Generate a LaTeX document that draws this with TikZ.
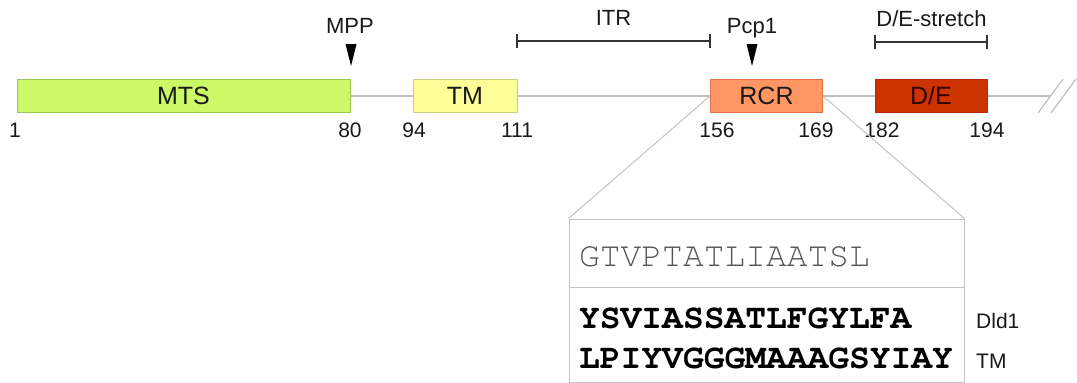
\documentclass[tikz,border=0pt]{standalone}
\usepackage{fontspec}
\setmainfont{Liberation Sans}
\newfontfamily\seqfont{texgyrecursor}[Extension=.otf, UprightFont=*-regular, BoldFont=*-bold]
\definecolor{txt}{RGB}{25,25,25}
\definecolor{axis}{RGB}{190,190,190}
\definecolor{mtsfill}{RGB}{204,250,102}
\definecolor{mtsdraw}{RGB}{160,195,90}
\definecolor{tmfill}{RGB}{255,255,153}
\definecolor{tmdraw}{RGB}{205,205,130}
\definecolor{rcrfill}{RGB}{255,150,100}
\definecolor{rcrdraw}{RGB}{225,115,70}
\definecolor{defill}{RGB}{204,51,0}
\definecolor{dedraw}{RGB}{175,45,10}
\definecolor{detext}{RGB}{50,5,0}
\definecolor{boxline}{RGB}{195,195,195}
\definecolor{seqgray}{RGB}{85,85,85}
\tikzset{
  dom/.style={rectangle, inner sep=0pt, line width=1pt, minimum height=33pt,
              font=\fontsize{25}{25}\selectfont, text=txt},
  num/.style={inner sep=0pt, anchor=base, font=\fontsize{21}{21}\selectfont, text=txt},
  lab/.style={inner sep=0pt, anchor=base, font=\fontsize{22}{22}\selectfont, text=txt},
  axisline/.style={draw=axis, line width=1.5pt},
  bar/.style={draw=black!80, line width=2pt},
  site/.style={fill=black},
  seq/.style={inner sep=0pt, anchor=base west, font=\seqfont\fontsize{34.6}{34.6}\selectfont},
  seqbold/.style={seq, text=black, font=\seqfont\bfseries\fontsize{34.6}{34.6}\selectfont},
}
\begin{document}
\begin{tikzpicture}[x=1pt,y=-1pt]
\useasboundingbox (0,0) rectangle (1077,383);
% domains
\node[dom, fill=mtsfill, draw=mtsdraw, minimum width=333pt] (mts) at (183.5,96) {MTS};
\node[dom, fill=tmfill, draw=tmdraw, minimum width=104pt] (tm) at (465,96) {TM};
\node[dom, fill=rcrfill, draw=rcrdraw, minimum width=112pt] (rcr) at (766.5,96) {RCR};
\node[dom, fill=defill, draw=dedraw, minimum width=112pt, text=detext] (de) at (931,96) {D/E};
\coordinate (axend) at (1050,96);
% backbone
\draw[axisline] (mts.east) -- (tm.west);
\draw[axisline] (tm.east) -- (rcr.west);
\draw[axisline] (rcr.east) -- (de.west);
\draw[axisline] (de.east) -- (axend);
\draw[axisline, line width=1.2pt] (1038,113) -- (1063,79);
\draw[axisline, line width=1.2pt] (1051,113) -- (1076,79);
% position numbers
\node[num] (n1) at (15,137.5) {1};
\node[num] (n80) at (350,137.5) {80};
\node[num] (n94) at (414,137.5) {94};
\node[num] (n111) at (517,137.5) {111};
\node[num] (n156) at (717,137.5) {156};
\node[num] (n169) at (816,137.5) {169};
\node[num] (n182) at (882,137.5) {182};
\node[num] (n194) at (987,137.5) {194};
% cleavage sites
\node[lab] (mpp) at (350,33) {MPP};
\fill[site] (345.5,44) -- (356.5,44) -- (351,66) -- cycle;
\node[lab] (pcp) at (752,33) {Pcp1};
\fill[site] (746.5,44) -- (757.5,44) -- (752,66) -- cycle;
% ranges
\node[lab] (itr) at (613.5,25.5) {ITR};
\draw[bar] (517,41) -- (710,41);
\draw[bar] (517,34) -- (517,48);
\draw[bar] (710,34) -- (710,48);
\node[lab] (stretch) at (931.5,26.5) {D/E-stretch};
\draw[bar] (875,42) -- (987,42);
\draw[bar] (875,35) -- (875,49);
\draw[bar] (987,35) -- (987,49);
% inset
\node[rectangle, draw=boxline, line width=1pt, minimum width=395pt, minimum height=163pt, inner sep=0pt] (inset) at (766.5,300.5) {};
\draw[draw=boxline, line width=1pt] (rcr.west) -- (inset.north west);
\draw[draw=boxline, line width=1pt] (rcr.east) -- (inset.north east);
\draw[draw=boxline, line width=1pt] (569,287) -- (964,287);
\node[seq, text=seqgray] (s1) at (579,266) {GTVPTATLIAATSL};
\node[seqbold] (s2) at (579,328) {YSVIASSATLFGYLFA};
\node[seqbold] (s3) at (579,368) {LPIYVGGGMAAAGSYIAY};
\node[lab, anchor=base west, font=\fontsize{21}{21}\selectfont] (dld) at (976,328) {Dld1};
\node[lab, anchor=base west, font=\fontsize{21}{21}\selectfont] (tmlab) at (976,368) {TM};
\end{tikzpicture}
\end{document}
